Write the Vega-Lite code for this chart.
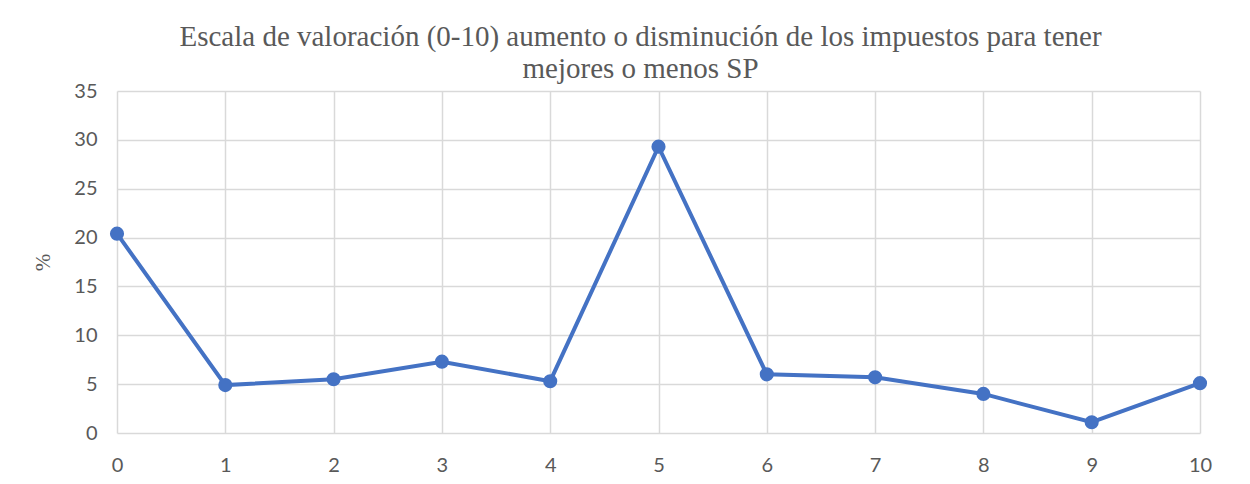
{
  "$schema": "https://vega.github.io/schema/vega-lite/v6.json",
  "width": 1083,
  "height": 342,
  "autosize": {"type": "none"},
  "padding": {"left": 117, "top": 91, "right": 50, "bottom": 51},
  "background": "white",
  "title": {
    "text": ["Escala de valoración (0-10) aumento o disminución de los impuestos para tener", "mejores o menos SP"],
    "font": "Liberation Serif",
    "fontSize": 29,
    "fontWeight": "normal",
    "color": "#595959",
    "anchor": "middle",
    "frame": "group",
    "dx": -18,
    "offset": -3,
    "lineHeight": 32
  },
  "data": {
    "values": [
      {"escala": 0, "pct": 20.4},
      {"escala": 1, "pct": 4.9},
      {"escala": 2, "pct": 5.5},
      {"escala": 3, "pct": 7.3},
      {"escala": 4, "pct": 5.3},
      {"escala": 5, "pct": 29.3},
      {"escala": 6, "pct": 6.0},
      {"escala": 7, "pct": 5.7},
      {"escala": 8, "pct": 4.0},
      {"escala": 9, "pct": 1.1},
      {"escala": 10, "pct": 5.1}
    ]
  },
  "config": {
    "view": {"stroke": null},
    "axis": {
      "gridColor": "#d9d9d9",
      "gridWidth": 1.5,
      "domain": false,
      "ticks": false,
      "labelFont": "Lato",
      "labelFontSize": 20,
      "labelColor": "#595959"
    }
  },
  "mark": {"type": "line", "color": "#4472C4", "strokeWidth": 4, "point": {"filled": true, "size": 200, "color": "#4472C4", "opacity": 1}},
  "encoding": {
    "x": {
      "field": "escala",
      "type": "quantitative",
      "scale": {"domain": [0, 10], "nice": false, "zero": false},
      "axis": {"title": null, "values": [0,1,2,3,4,5,6,7,8,9,10], "labelPadding": 22, "labelFlush": false}
    },
    "y": {
      "field": "pct",
      "type": "quantitative",
      "scale": {"domain": [0, 35], "nice": false},
      "axis": {
        "title": "%",
        "titleFont": "Liberation Serif",
        "titleFontSize": 21,
        "titleFontWeight": "normal",
        "titleColor": "#595959",
        "titlePadding": 20,
        "values": [0,5,10,15,20,25,30,35],
        "labelPadding": 20
      }
    }
  }
}
